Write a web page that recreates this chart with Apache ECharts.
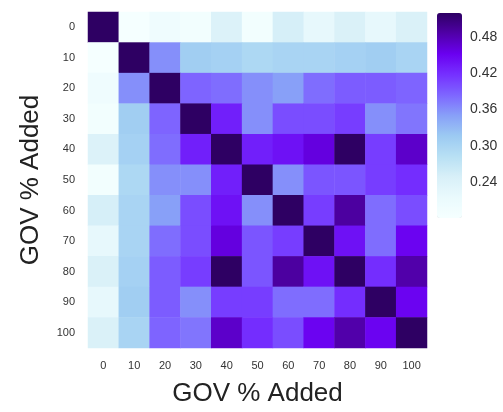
<!DOCTYPE html>
<html>
<head>
<meta charset="utf-8">
<script src="https://cdn.jsdelivr.net/npm/echarts@6/dist/echarts.min.js"></script>
<style>html,body{margin:0;padding:0;background:#fff}#c{width:503px;height:412px}</style>
</head>
<body>
<div id="c"></div>
<script>
const categories = ['0','10','20','30','40','50','60','70','80','90','100'];
const row0   = [1.00, 0.18, 0.20, 0.19, 0.24, 0.19, 0.25, 0.22, 0.245, 0.22, 0.245];
const row10  = [0.18, 1.00, 0.36, 0.31, 0.305, 0.295, 0.30, 0.30, 0.305, 0.31, 0.30];
const row20  = [0.20, 0.36, 1.00, 0.385, 0.38, 0.36, 0.35, 0.38, 0.39, 0.39, 0.385];
const row30  = [0.19, 0.31, 0.385, 1.00, 0.43, 0.36, 0.40, 0.40, 0.41, 0.36, 0.375];
const row40  = [0.24, 0.305, 0.38, 0.43, 1.00, 0.43, 0.44, 0.46, 0.52, 0.41, 0.47];
const row50  = [0.19, 0.295, 0.36, 0.36, 0.43, 1.00, 0.36, 0.395, 0.395, 0.41, 0.42];
const row60  = [0.25, 0.30, 0.35, 0.40, 0.44, 0.36, 1.00, 0.41, 0.49, 0.38, 0.40];
const row70  = [0.22, 0.30, 0.38, 0.40, 0.46, 0.395, 0.41, 1.00, 0.44, 0.38, 0.45];
const row80  = [0.245, 0.305, 0.39, 0.41, 0.52, 0.395, 0.49, 0.44, 1.00, 0.42, 0.485];
const row90  = [0.22, 0.31, 0.39, 0.36, 0.41, 0.41, 0.38, 0.38, 0.42, 1.00, 0.45];
const row100 = [0.245, 0.30, 0.385, 0.375, 0.47, 0.42, 0.40, 0.45, 0.485, 0.45, 1.00];
const rows = [row0,row10,row20,row30,row40,row50,row60,row70,row80,row90,row100];
const colorbarTicks = [0.24, 0.30, 0.36, 0.42, 0.48];
const colorMin = 0.18, colorMax = 0.52;

const data = [];
rows.forEach((r, yi) => r.forEach((v, xi) => data.push([xi, yi, v])));

const chart = echarts.init(document.getElementById('c'), null, {renderer: 'canvas'});
const font = 'Liberation Sans, Arial, Helvetica, sans-serif';
chart.setOption({
  animation: false,
  backgroundColor: '#fff',
  textStyle: {fontFamily: font},
  grid: [
    {left: 88, top: 12, width: 339, height: 339},
    {left: 437, top: 13, width: 25, height: 205}
  ],
  xAxis: [
    {type: 'category', data: categories, gridIndex: 0,
     axisLine: {show: false}, axisTick: {show: false}, splitLine: {show: false},
     axisLabel: {color: '#333', fontSize: 11, margin: 12, fontFamily: font},
     name: 'GOV % Added', nameLocation: 'middle', nameGap: 33,
     nameTextStyle: {fontSize: 26, color: '#222', fontFamily: font}},
    {type: 'value', gridIndex: 1, show: false}
  ],
  yAxis: [
    {type: 'category', data: categories, gridIndex: 0, inverse: true,
     axisLine: {show: false}, axisTick: {show: false}, splitLine: {show: false},
     axisLabel: {color: '#333', fontSize: 11, margin: 13, fontFamily: font},
     name: 'GOV % Added', nameLocation: 'middle', nameGap: 44,
     nameTextStyle: {fontSize: 26, color: '#222', fontFamily: font}},
    {type: 'value', gridIndex: 1, position: 'right', min: colorMin, max: colorMax, interval: 0.06,
     axisLine: {show: false}, axisTick: {show: false}, splitLine: {show: false},
     axisLabel: {color: '#333', fontSize: 14, margin: 8, fontFamily: font,
       formatter: v => colorbarTicks.some(t => Math.abs(t - v) < 1e-6) ? v.toFixed(2) : ''}}
  ],
  visualMap: {
    type: 'continuous', min: colorMin, max: colorMax, calculable: false,
    show: true, left: 437, top: 13, itemWidth: 25, itemHeight: 205, padding: 0,
    text: null, showLabel: false, orient: 'vertical', seriesIndex: 0,
    textStyle: {color: 'transparent'},
    inRange: {color: ['#f5ffff','#eafafd','#d8f0f8','#b8e0f4','#9ccaf2','#88a0f8','#7e66ff','#7530ff','#6a00f0','#5000a8','#2e0063']}
  },
  series: [{
    type: 'heatmap', xAxisIndex: 0, yAxisIndex: 0, data: data,
    itemStyle: {borderWidth: 0}, emphasis: {disabled: true}
  }]
});
</script>
</body>
</html>
